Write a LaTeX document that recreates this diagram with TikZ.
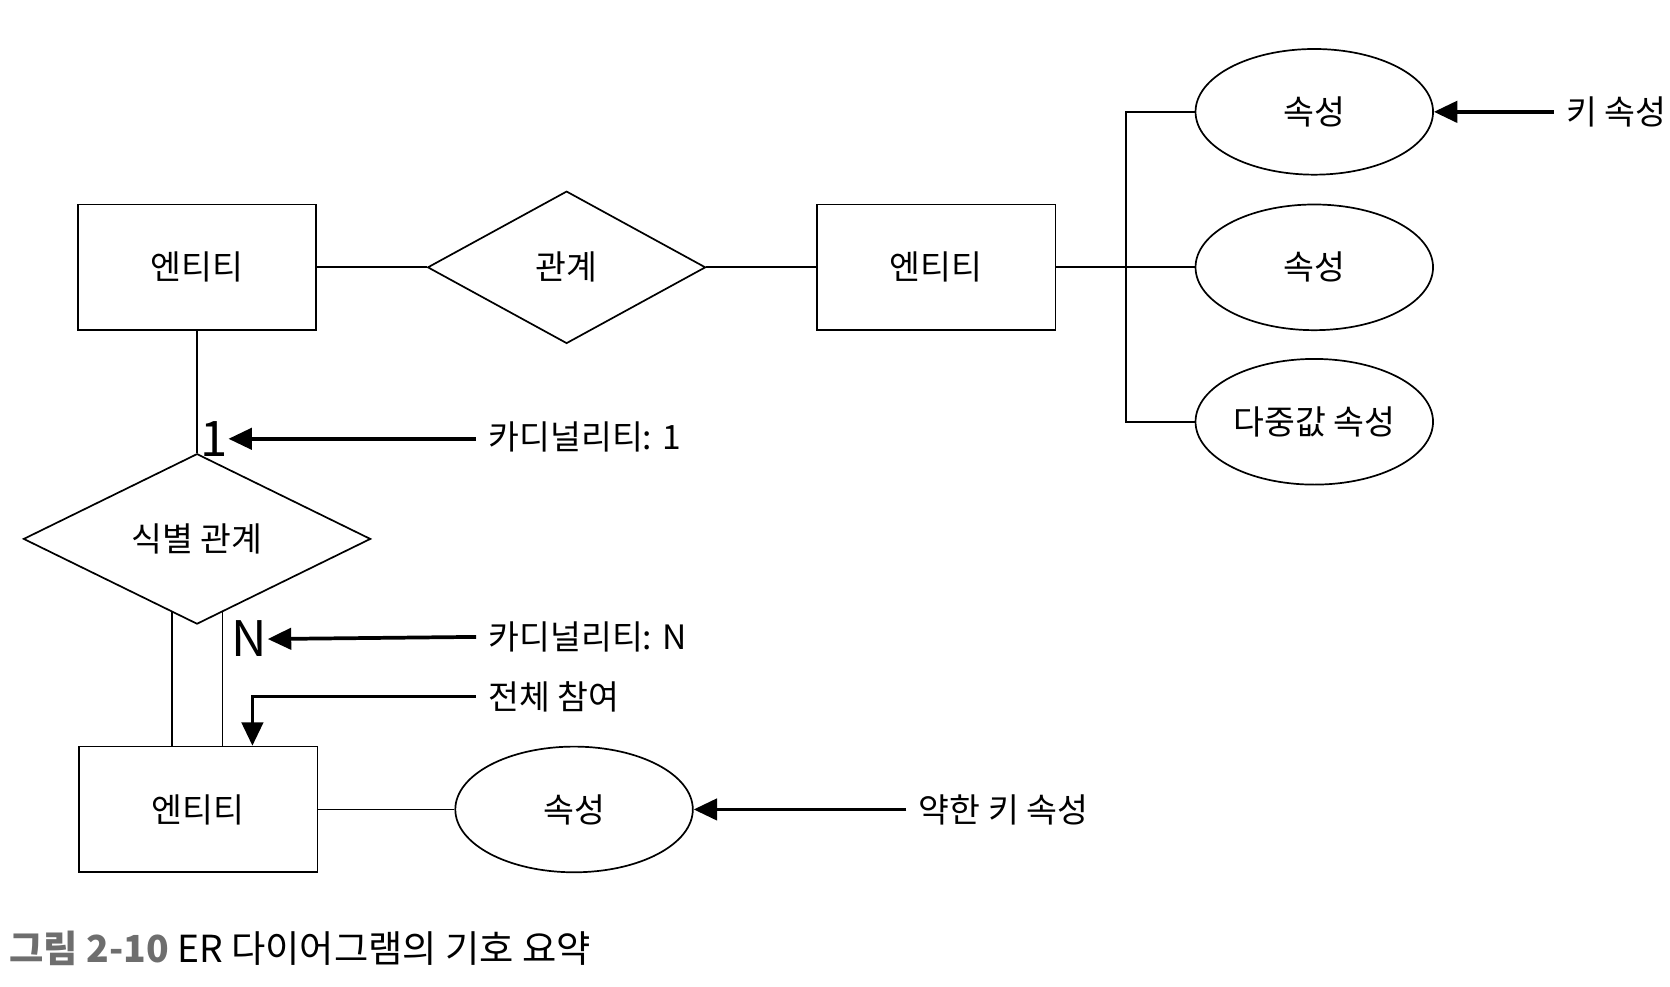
\documentclass[tikz,border=0pt]{standalone}
\usepackage{fontspec}
\setmainfont{Noto Sans CJK KR}
\usetikzlibrary{arrows.meta}
\usetikzlibrary{shapes.geometric}
\usetikzlibrary{positioning}
\definecolor{capgray}{HTML}{6E6E6E}

\begin{document}
\begin{tikzpicture}
			[x=1pt,y=-1pt,line width=1.6pt,
			every node/.style={font=\fontsize{31.5}{36}\selectfont},
			ent/.style={draw,rectangle,minimum width=224pt,minimum height=118pt,inner sep=0},
			rel/.style={draw,diamond,inner sep=0},
			attr/.style={draw,ellipse,minimum width=223pt,minimum height=118pt,inner sep=0},
			note/.style={anchor=west,inner sep=0,inner xsep=11pt},
			card/.style={inner sep=0,font=\fontsize{46}{50}\selectfont},
			pointer/.style={line width=3.5pt,-{Triangle[length=22pt,width=20pt]}}]
			\useasboundingbox (0,0) rectangle (1568,926);
			\node[ent] (e1) at (185,251) {엔티티};
			\node[rel,minimum width=261pt,minimum height=143pt] (r1) at (532,251) {관계};
			\node[ent] (e2) at (879,251) {엔티티};
			\node[attr] (a1) at (1234,105) {속성};
			\node[attr] (a2) at (1234,251) {속성};
			\node[attr] (a3) at (1234,396) {다중값 속성};
			\coordinate (bus) at (1057,251);
			\node[rel,minimum width=326pt,minimum height=160pt] (r2) at (185,506) {식별 관계};
			\node[ent] (e3) at (186,760) {엔티티};
			\node[attr] (a4) at (539,760) {속성};
			
			% labels
			\node[note] (k1) at (1459,105) {키 속성};
			\node[note] (k2) at (447,410) {카디널리티: 1};
			\node[note] (k3) at (447,598) {카디널리티: N};
			\node[note] (k4) at (447,654) {전체 참여};
			\node[note] (k5) at (851,760) {약한 키 속성};
			\node[card] (c1) at (201,412) {1};
			\node[card] (c2) at (234,600) {N};
			
			\foreach \from/\to in 
			{e1/r1, r1/e2, e2/a2, e3/a4}
			\draw (\from.east) -- (\to.west);
			\draw (e1.south) -- (r2.north);
			\draw (a1.west) -| (bus) |- (a3.west);
			\draw (r2.251) -- (r2.251 |- e3.north);
			\draw (r2.289) -- (r2.289 |- e3.north);
			
			\draw[pointer] (k1.west) -- (a1.east);
			\draw[pointer] (k2.west |- c1) -- (c1.east);
			\draw[pointer] (k3.west) -- (c2.east);
			\draw[pointer] (k4.west) -| ([xshift=51pt]e3.north);
			\draw[pointer] (k5.west) -- (a4.east);
			
			\node[anchor=west,inner sep=0,font=\fontsize{35}{40}\selectfont] (cap) at (8,890)
			{\textcolor{capgray}{\bfseries 그림 2-10} ER 다이어그램의 기호 요약};
			\end{tikzpicture}
\end{document}
